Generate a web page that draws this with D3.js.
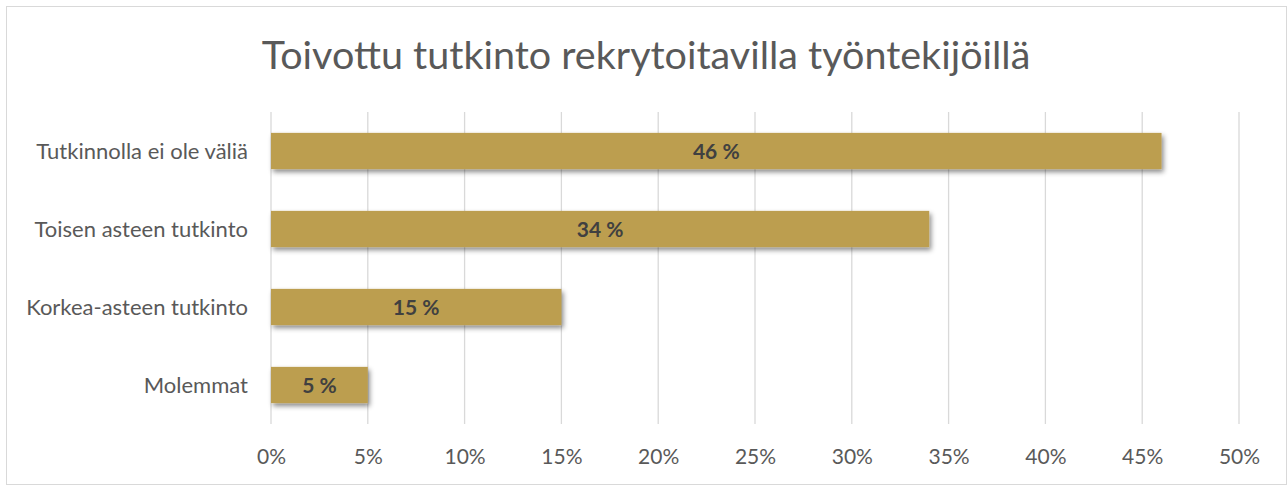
<!DOCTYPE html>
<html>
<head>
<meta charset="utf-8">
<script src="https://d3js.org/d3.v7.min.js"></script>
<style>
  body { margin: 0; background: #fff; }
  text { font-family: Lato, "Open Sans", sans-serif; }
</style>
</head>
<body>
<svg id="chart" width="1288" height="486"></svg>
<script>
// data
var categories = ["Tutkinnolla ei ole väliä", "Toisen asteen tutkinto", "Korkea-asteen tutkinto", "Molemmat"];
var values = [46, 34, 15, 5];
var xTicks = [0, 5, 10, 15, 20, 25, 30, 35, 40, 45, 50];
var title = "Toivottu tutkinto rekrytoitavilla työntekijöillä";

var svg = d3.select("#chart");

// chart border
svg.append("rect").attr("x", 6.5).attr("y", 6.5).attr("width", 1280).attr("height", 478)
  .style("fill", "#fff").style("stroke", "#d9d9d9").style("stroke-width", 1);

// shadow filter
var defs = svg.append("defs");
var f = defs.append("filter").attr("id", "shadow").attr("x", "-10%").attr("y", "-30%").attr("width", "130%").attr("height", "180%");
f.append("feDropShadow").attr("dx", 2).attr("dy", 3).attr("stdDeviation", 2.5)
  .attr("flood-color", "#000").attr("flood-opacity", 0.45);

var plotLeft = 271, plotRight = 1239, plotTop = 112, plotBottom = 424;

var x = d3.scaleLinear().domain([0, 50]).range([plotLeft, plotRight]);
var y = d3.scaleBand().domain(categories).range([plotTop, plotBottom]).paddingInner(0.535).paddingOuter(0.2675);

// gridlines
svg.append("g").selectAll("line").data(xTicks).enter().append("line")
  .attr("x1", function(d){ return x(d); }).attr("x2", function(d){ return x(d); })
  .attr("y1", plotTop).attr("y2", plotBottom)
  .style("stroke", "#d9d9d9").style("stroke-width", 1.3);

// x axis labels
var xAxis = d3.axisBottom(x).tickValues(xTicks).tickSize(0).tickPadding(0)
  .tickFormat(function(d){ return d + "%"; });
var gx = svg.append("g").attr("transform", "translate(0," + plotBottom + ")").call(xAxis);
gx.select(".domain").remove();
gx.selectAll("text").attr("y", 33).attr("dy", "0.35em")
  .style("font-family", "Lato, sans-serif").style("font-size", "21px").style("fill", "#595959");

// y axis labels
var yAxis = d3.axisLeft(y).tickSize(0).tickPadding(0);
var gy = svg.append("g").attr("transform", "translate(248,0)").call(yAxis);
gy.select(".domain").remove();
gy.selectAll("text").attr("dy", "0.35em")
  .style("font-family", "Lato, sans-serif").style("font-size", "22px").style("fill", "#595959");

// bars
svg.append("g").selectAll("rect").data(values).enter().append("rect")
  .attr("x", x(0))
  .attr("y", function(d, i){ return y(categories[i]); })
  .attr("width", function(d){ return x(d) - x(0); })
  .attr("height", y.bandwidth())
  .style("fill", "#bc9e50")
  .attr("filter", "url(#shadow)");

// data labels
svg.append("g").selectAll("text").data(values).enter().append("text")
  .attr("x", function(d){ return (x(d) + x(0)) / 2; })
  .attr("y", function(d, i){ return y(categories[i]) + y.bandwidth() / 2 + 1; })
  .attr("dy", "0.35em")
  .attr("text-anchor", "middle")
  .style("font-size", "21px").style("font-weight", "bold").style("fill", "#404040")
  .text(function(d){ return d + " %"; });

// title
svg.append("text").attr("x", 646).attr("y", 69).attr("text-anchor", "middle")
  .style("font-size", "39.5px").style("fill", "#595959")
  .text(title);
</script>
</body>
</html>
